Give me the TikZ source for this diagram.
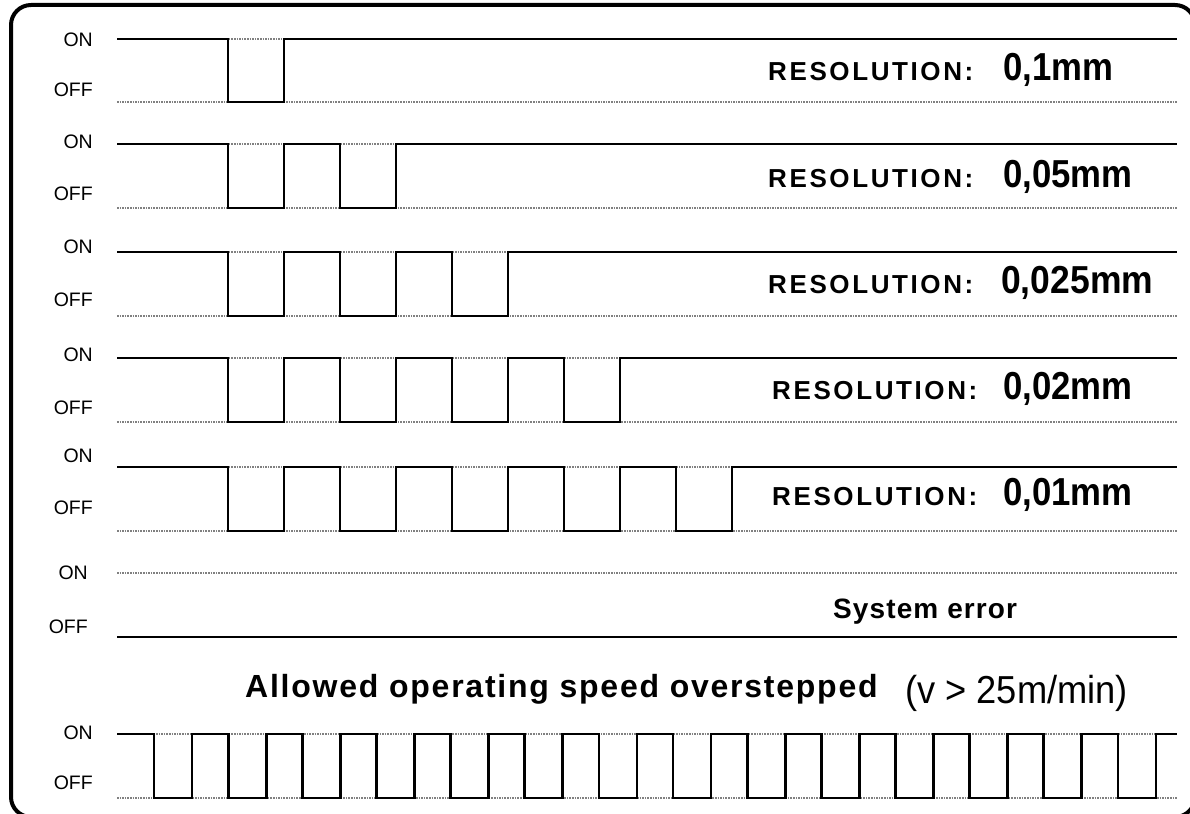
\documentclass[tikz,border=0pt]{standalone}
\usepackage{graphicx}
\usepackage{fontspec}
\setmainfont{Liberation Sans}
\newfontfamily\wideA[LetterSpace=10]{Liberation Sans}
\newfontfamily\wideB[LetterSpace=5.5]{Liberation Sans}
\newfontfamily\wideC[LetterSpace=4]{Liberation Sans}
\newcommand\pulserow[3]{%
  \draw[dotline] (117,#1) -- (1177,#1);
  \draw[dotline] (117,#2) -- (1177,#2);
  \draw[sig] (117,#1) foreach \i in {1,...,#3} {
     -- ({228+112*(\i-1)},#1) -- ({228+112*(\i-1)},#2)
     -- ({284+112*(\i-1)},#2) -- ({284+112*(\i-1)},#1) } -- (1177,#1);
}
\begin{document}
\begin{tikzpicture}[x=1pt,y=-1pt,
  sig/.style={line width=2.8pt, line join=miter},
  dotline/.style={line width=1.4pt, black!50, dash pattern=on 1.6pt off 1pt},
  lab/.style={font=\fontsize{19.5}{19.5}\selectfont, anchor=east, inner sep=0pt},
  restxt/.style={font=\wideA\bfseries\fontsize{26}{26}\selectfont, anchor=base west, inner sep=0pt},
  valtxt/.style={font=\bfseries\fontsize{39}{39}\selectfont, anchor=base west, inner sep=0pt},
  frame/.style={line width=4pt, rounded corners=20pt}]
\useasboundingbox (0,0) rectangle (1190,813);
\begin{scope}
  \clip (0,0) rectangle (1190,813);
  \draw[frame] (11,5) rectangle (1195,817);
\end{scope}

% row 1
\node[lab] (on1) at (93,39.5) {ON};
\node[lab] (off1) at (93,90) {OFF};
\pulserow{39}{102}{1}
\node[restxt] (r1) at (768,81) {RESOLUTION:};
\node[valtxt] (v1) at (1003,81) {\scalebox{0.89}[1]{0,1mm}};

% row 2
\node[lab] (on2) at (93,142) {ON};
\node[lab] (off2) at (93,194) {OFF};
\pulserow{144}{208}{2}
\node[restxt] (r2) at (768,187) {RESOLUTION:};
\node[valtxt] (v2) at (1003,187) {\scalebox{0.89}[1]{0,05mm}};

% row 3
\node[lab] (on3) at (93,247) {ON};
\node[lab] (off3) at (93,300) {OFF};
\pulserow{252}{316}{3}
\node[restxt] (r3) at (768,293) {RESOLUTION:};
\node[valtxt] (v3) at (1001,293) {\scalebox{0.91}[1]{0,025mm}};

% row 4
\node[lab] (on4) at (93,355) {ON};
\node[lab] (off4) at (93,408) {OFF};
\pulserow{358}{422}{4}
\node[restxt] (r4) at (772,399) {RESOLUTION:};
\node[valtxt] (v4) at (1003,399) {\scalebox{0.89}[1]{0,02mm}};

% row 5
\node[lab] (on5) at (93,456) {ON};
\node[lab] (off5) at (93,508) {OFF};
\pulserow{467}{531}{5}
\node[restxt] (r5) at (772,505) {RESOLUTION:};
\node[valtxt] (v5) at (1003,505) {\scalebox{0.89}[1]{0,01mm}};

% row 6 : system error
\node[lab] (on6) at (88,573) {ON};
\node[lab] (off6) at (88,627) {OFF};
\coordinate (e6a) at (117,573);
\coordinate (e6b) at (1177,573);
\coordinate (e6c) at (117,637);
\coordinate (e6d) at (1177,637);
\draw[dotline] (e6a) -- (e6b);
\draw[sig] (e6c) -- (e6d);
\node[font=\wideC\bfseries\fontsize{28}{28}\selectfont, anchor=base west, inner sep=0pt] (err) at (833,618) {System error};

% overspeed title
\node[font=\wideB\bfseries\fontsize{32}{32}\selectfont, anchor=base west, inner sep=0pt] (ovs) at (245,697) {Allowed operating speed overstepped};
\node[font=\fontsize{39}{39}\selectfont, anchor=base west, inner sep=0pt] (vel) at (905,703) {\scalebox{0.93}[1]{(v > 25m/min)}};

% row 7
\node[lab] (on7) at (93,733) {ON};
\node[lab] (off7) at (93,783) {OFF};
\draw[dotline] (117,734) -- (1177,734);
\draw[dotline] (117,798) -- (1177,798);
\draw[sig] (117,734) foreach \k in {0,...,13} {
   -- ({154+74.15*\k},734) -- ({154+74.15*\k},798)
   -- ({192+74.15*\k},798) -- ({192+74.15*\k},734) } -- (1177,734);
\end{tikzpicture}
\end{document}
